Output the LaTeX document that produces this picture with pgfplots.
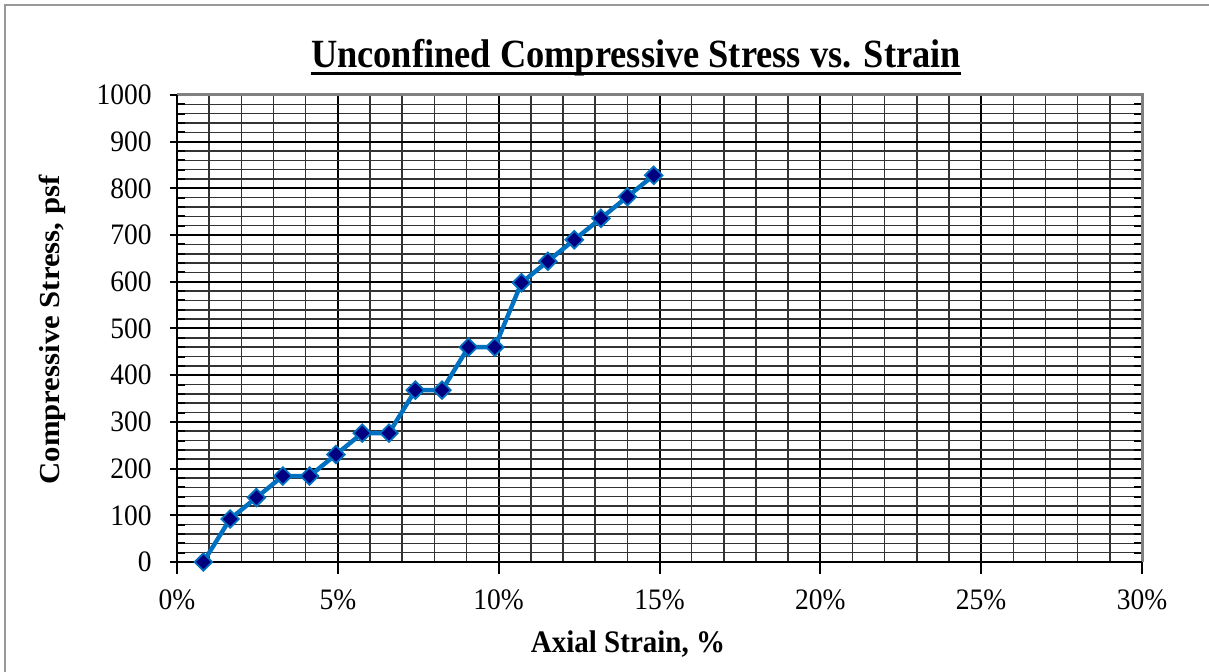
\documentclass[border=0pt]{standalone}
\usepackage{pgfplots}
\pgfplotsset{compat=1.18}
\usepackage{fontspec}
\setmainfont{Liberation Serif}
\definecolor{lineblue}{RGB}{0,112,192}
\definecolor{navy}{RGB}{0,0,128}
\begin{document}
\begin{tikzpicture}[x=1pt,y=1pt]
\useasboundingbox (0,0) rectangle (604.5,336);
\draw[gray!80, line width=1.2pt] (2.5,-5) -- (2.5,333.5) -- (610,333.5);
\begin{axis}[
  at={(88.5pt,55pt)}, anchor=south west, scale only axis,
  width=482.5pt, height=233.5pt,
  xmin=0, xmax=30, ymin=0, ymax=1000,
  xtick={0,5,...,30}, ytick={0,100,...,1000},
  minor x tick num=4, minor y tick num=4,
  grid=both,
  major grid style={black, line width=1pt},
  minor grid style={black!80, line width=0.75pt},
  axis line style={draw=none},
  tick align=inside,
  major tick length=6pt, minor tick length=4pt,
  tick style={black, line width=1pt},
  every major y tick/.append style={xshift=-3.5pt},
  every major x tick/.append style={yshift=-6pt},
  minor x tick style={draw=none},
  scaled ticks=false,
  /pgf/number format/1000 sep={},
  /pgf/number format/assume math mode=true,
  ticklabel style={font=\fontsize{13.75}{14}\selectfont, inner sep=0pt, yscale=1.08},
  xticklabel={\pgfmathprintnumber{\tick}\%},
  yticklabel style={anchor=east, xshift=-12.5pt},
  xticklabel style={anchor=north, yshift=-12.5pt},
  clip=false,
]
\addplot[color=lineblue, line width=2.2pt, mark=square*, mark size=3.1pt,
  mark options={rotate=45, fill=navy, draw=lineblue, line width=0.9pt}]
  coordinates {
  (0.82,0) (1.65,92) (2.47,138) (3.29,184) (4.12,184) (4.94,230)
  (5.76,276) (6.59,276) (7.41,368) (8.24,368) (9.06,460) (9.88,460)
  (10.71,598) (11.53,644) (12.35,690) (13.18,736) (14.00,782) (14.82,828)
  };
\draw[gray, line width=1.5pt] (rel axis cs:0,1) -- (rel axis cs:1,1) -- (rel axis cs:1,0);
\draw[black, line width=1pt] (rel axis cs:0,1) -- (rel axis cs:0,0) -- (rel axis cs:1,0);
\end{axis}
\node[anchor=base, inner sep=0pt, yscale=1.1, font=\bfseries\fontsize{18.2}{19}\selectfont] (t) at (318,302) {Unconfined Compressive Stress vs. Strain};
\draw[line width=1.5pt] ([yshift=-3pt]t.base west) -- ([yshift=-3pt]t.base east);
\node[anchor=base, inner sep=0pt, yscale=1.08, font=\bfseries\fontsize{14.5}{15}\selectfont] at (314,9.5) {Axial Strain, \%};
\node[anchor=base, inner sep=0pt, rotate=90, xscale=1.06, font=\bfseries\fontsize{14.5}{15}\selectfont] at (29.5,171) {Compressive Stress, psf};
\end{tikzpicture}
\end{document}
